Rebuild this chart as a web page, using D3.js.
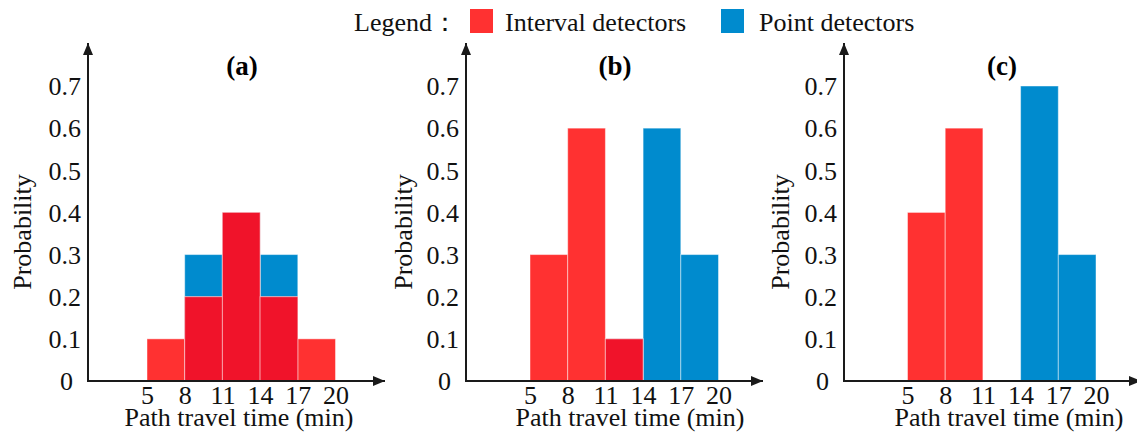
<!DOCTYPE html>
<html>
<head>
<meta charset="utf-8">
<script src="https://cdn.jsdelivr.net/npm/d3@7"></script>
<style>
  body { margin: 0; background: #fff; }
  svg { display: block; }
</style>
</head>
<body>
<div id="chart"></div>
<script>
// Data
const edges = [5, 8, 11, 14, 17, 20];
const yTicks = [0, 0.1, 0.2, 0.3, 0.4, 0.5, 0.6, 0.7];
const panelNames = ["(a)", "(b)", "(c)"];
const intervalA = [0.1, 0.2, 0.4, 0.2, 0.1];
const pointA = [0, 0.3, 0.4, 0.3, 0];
const intervalB = [0.3, 0.6, 0.1, 0, 0];
const pointB = [0, 0, 0.1, 0.6, 0.3];
const intervalC = [0.4, 0.6, 0, 0, 0];
const pointC = [0, 0, 0, 0.7, 0.3];
const legendLabels = ["Interval detectors", "Point detectors"];

const panels = [
  { name: panelNames[0], interval: intervalA, point: pointA },
  { name: panelNames[1], interval: intervalB, point: pointB },
  { name: panelNames[2], interval: intervalC, point: pointC }
];

// Layout
const w = 1137, h = 436;
const baseY = 381, topY = 43;
const layout = [
  { ox: 88, barOff: 59, titleX: 154, xLabX: 151, yLabX: -66 },
  { ox: 466, barOff: 64, titleX: 149, xLabX: 164, yLabX: -63 },
  { ox: 844, barOff: 63.5, titleX: 158, xLabX: 165, yLabX: -64 }
];
const barSpan = 188.5;
const axisLen = 297;
const font = "'Liberation Serif', 'Times New Roman', serif";
const c = { light: "#ff3131", dark: "#f0132a", blue: "#008bce", axis: "#1a1a1a" };

const svg = d3.select("#chart").append("svg")
  .attr("width", w).attr("height", h);

svg.append("defs").append("marker")
  .attr("id", "arrow")
  .attr("markerUnits", "userSpaceOnUse")
  .attr("viewBox", "0 0 12 10")
  .attr("refX", 12).attr("refY", 5)
  .attr("markerWidth", 12).attr("markerHeight", 10)
  .attr("orient", "auto")
  .append("path")
  .attr("d", "M0,0 L12,5 L0,10 z")
  .attr("fill", c.axis);

const yScale = d3.scaleLinear().domain([0, 0.7]).range([baseY, 86]);

panels.forEach((p, k) => {
  const L = layout[k];
  const g = svg.append("g");
  const xScale = d3.scaleLinear()
    .domain([edges[0], edges[edges.length - 1]])
    .range([L.ox + L.barOff, L.ox + L.barOff + barSpan]);

  const bins = d3.range(edges.length - 1).map(i => ({
    x0: edges[i], x1: edges[i + 1],
    iv: p.interval[i], pv: p.point[i]
  }));

  const bar = (sel, val, color) => sel
    .attr("x", d => xScale(d.x0))
    .attr("width", d => xScale(d.x1) - xScale(d.x0))
    .attr("y", d => yScale(val(d)))
    .attr("height", d => baseY - yScale(val(d)))
    .attr("fill", color)
    .attr("stroke", "#fff").attr("stroke-opacity", 0.45).attr("stroke-width", 1);

  // point detectors (blue), interval (light red), overlap (dark red)
  g.selectAll(".pt").data(bins.filter(d => d.pv > 0)).join("rect")
    .attr("class", "pt").call(bar, d => d.pv, c.blue);
  g.selectAll(".iv").data(bins.filter(d => d.iv > 0)).join("rect")
    .attr("class", "iv").call(bar, d => d.iv, c.light);
  g.selectAll(".ov").data(bins.filter(d => d.iv > 0 && d.pv > 0)).join("rect")
    .attr("class", "ov").call(bar, d => Math.min(d.iv, d.pv), c.dark);

  // y axis
  const yAxis = d3.axisLeft(yScale).tickValues(yTicks).tickSize(0).tickPadding(6)
    .tickFormat(d => d === 0 ? "0" : d3.format(".1f")(d));
  const ya = g.append("g").attr("transform", `translate(${L.ox},0)`).call(yAxis);
  ya.select(".domain").remove();
  ya.selectAll("text")
    .attr("font-family", font).attr("font-size", 26).attr("fill", "#111")
    .attr("dy", "0.34em")
    .attr("x", d => d === 0 ? -15 : -7);

  // x axis
  const xAxis = d3.axisBottom(xScale).tickValues(edges).tickSize(0).tickPadding(5);
  const xa = g.append("g").attr("transform", `translate(0,${baseY})`).call(xAxis);
  xa.select(".domain").remove();
  xa.selectAll("text")
    .attr("font-family", font).attr("font-size", 26).attr("fill", "#111");

  // axis lines with arrows
  g.append("line")
    .attr("x1", L.ox).attr("y1", baseY + 1).attr("x2", L.ox).attr("y2", topY)
    .attr("stroke", c.axis).attr("stroke-width", 2).attr("marker-end", "url(#arrow)");
  g.append("line")
    .attr("x1", L.ox - 1).attr("y1", baseY).attr("x2", L.ox + axisLen).attr("y2", baseY)
    .attr("stroke", c.axis).attr("stroke-width", 2).attr("marker-end", "url(#arrow)");

  // titles and labels
  g.append("text")
    .attr("x", L.ox + L.titleX).attr("y", 75)
    .attr("text-anchor", "middle")
    .attr("font-family", font).attr("font-size", 27).attr("font-weight", "bold")
    .text(p.name);
  g.append("text")
    .attr("x", L.ox + L.xLabX).attr("y", 426)
    .attr("text-anchor", "middle")
    .attr("font-family", font).attr("font-size", 26).attr("fill", "#111")
    .text("Path travel time (min)");
  g.append("text")
    .attr("transform", `translate(${L.ox + L.yLabX},232) rotate(-90)`)
    .attr("text-anchor", "middle").attr("dy", "0.35em")
    .attr("font-family", font).attr("font-size", 26).attr("fill", "#111")
    .text("Probability");
});

// Legend
const legend = svg.append("g").attr("font-family", font).attr("font-size", 26).attr("fill", "#111");
legend.append("text").attr("x", 354).attr("y", 31).text("Legend：");
const legendPos = [{ rx: 470, tx: 505, color: c.light }, { rx: 721, tx: 759, color: c.blue }];
legendLabels.forEach((lab, i) => {
  legend.append("rect")
    .attr("x", legendPos[i].rx).attr("y", 9).attr("width", 23).attr("height", 24)
    .attr("fill", legendPos[i].color);
  legend.append("text").attr("x", legendPos[i].tx).attr("y", 31).text(lab);
});
</script>
</body>
</html>
